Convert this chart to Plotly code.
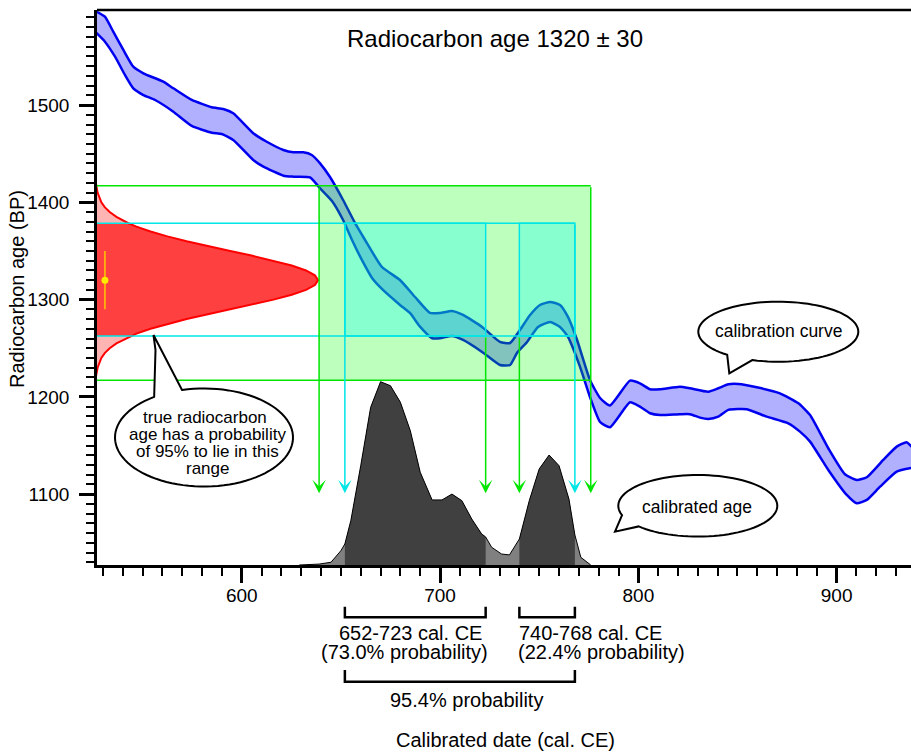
import math
import plotly.graph_objects as go

# ---------------- data ----------------
# calibration curve envelope (cal. CE -> radiocarbon age BP)
cal_upper_year = [526.9, 531.0, 535.2, 540.3, 545.3, 550.4, 560.4, 565.5, 574.8, 584.9, 590.7, 595.7, 605.8, 612.6,
                  621.0, 626.0, 631.0, 635.3, 639.5, 644.5, 651.1, 657.1, 662.2, 670.7, 679.8, 687.4, 694.9, 700.0,
                  706.0, 711.6, 721.2, 730.2, 735.3, 740.3, 745.4, 750.4, 755.5, 760.5, 764.5, 769.1, 775.6, 780.7,
                  785.7, 795.8, 800.8, 805.9, 810.9, 821.0, 826.1, 835.3, 840.3, 845.4, 850.4, 859.7, 871.4, 880.7,
                  886.6, 895.8, 904.2, 910.1, 915.2, 923.5, 930.3, 935.3, 938.0]
cal_upper_bp = [1595.9, 1590.8, 1575.4, 1556.6, 1539.4, 1532.6, 1524.0, 1517.2, 1505.2, 1497.7, 1495.9, 1491.5, 1471.0,
                1462.3, 1453.8, 1451.4, 1451.4, 1448.7, 1440.1, 1426.0, 1402.4, 1378.8, 1361.3, 1333.5, 1320.2, 1302.7,
                1286.3, 1286.3, 1288.3, 1284.2, 1271.9, 1256.5, 1255.4, 1268.8, 1284.2, 1294.5, 1297.6, 1294.5, 1282.2,
                1258.5, 1217.4, 1198.9, 1191.2, 1216.7, 1214.0, 1207.8, 1207.8, 1210.5, 1208.9, 1205.4, 1208.9, 1213.0,
                1213.3, 1209.9, 1203.7, 1193.5, 1181.4, 1147.2, 1120.5, 1114.6, 1117.4, 1135.2, 1148.9, 1153.4, 1148.5]
cal_lower_year = [526.0, 531.0, 536.1, 541.1, 545.3, 550.4, 556.3, 565.5, 574.8, 584.9, 589.9, 595.7, 605.8, 610.9,
                  621.0, 626.0, 634.4, 639.5, 645.5, 651.1, 655.6, 661.1, 665.7, 671.2, 679.8, 684.9, 689.9, 696.0,
                  700.0, 706.0, 711.6, 721.2, 730.2, 735.3, 738.8, 743.9, 749.4, 755.5, 760.5, 764.5, 770.6, 775.6,
                  780.7, 785.7, 795.8, 800.8, 805.9, 810.9, 821.0, 826.1, 831.1, 835.3, 840.3, 845.4, 854.7, 864.7,
                  875.6, 881.5, 886.6, 895.8, 905.1, 910.1, 915.2, 921.9, 930.3, 938.0]
cal_lower_bp = [1575.4, 1565.1, 1549.7, 1530.9, 1517.2, 1510.3, 1505.2, 1493.2, 1478.5, 1471.6, 1470.2, 1464.1, 1443.5,
                1436.6, 1427.4, 1426.4, 1425.7, 1414.4, 1401.4, 1381.8, 1361.3, 1338.7, 1322.2, 1309.9, 1294.5, 1286.0,
                1272.2, 1260.3, 1260.3, 1262.6, 1258.5, 1246.2, 1232.8, 1232.8, 1245.2, 1256.5, 1271.9, 1277.0, 1271.9,
                1261.6, 1230.8, 1199.9, 1174.2, 1168.8, 1194.5, 1190.0, 1183.2, 1181.4, 1182.2, 1182.2, 1178.7, 1177.3,
                1179.7, 1186.6, 1187.3, 1179.7, 1172.9, 1164.3, 1154.0, 1124.9, 1099.2, 1090.7, 1094.1, 1107.7, 1123.2,
                1127.0]

# measured radiocarbon age
measured_age = 1320
measured_err = 30
measured_x = 531

# probability curve of the measured age (drawn sideways from the y axis)
red_bp = [1200, 1210, 1220, 1230, 1240, 1245, 1250, 1255, 1262.5, 1265, 1270, 1275, 1280, 1285, 1290, 1295, 1300,
          1305, 1310, 1315, 1320, 1325, 1330, 1335, 1340, 1345, 1350, 1355, 1360, 1365, 1370, 1375, 1378.5, 1385,
          1390, 1395, 1400, 1410, 1420, 1430, 1440]
red_year = [526.0, 526.1, 526.4, 527.3, 529.2, 530.9, 533.4, 536.8, 543.9, 546.9, 554.0, 562.5, 572.2, 582.9, 594.2,
            605.5, 616.0, 625.2, 632.4, 636.9, 638.5, 636.9, 632.4, 625.2, 616.0, 605.5, 594.2, 582.9, 572.2, 562.5,
            554.0, 546.9, 542.8, 536.8, 533.4, 530.9, 529.2, 527.3, 526.4, 526.1, 526.0]

# ranges
bp95 = [1262.5, 1378.5]          # 95% range of the radiocarbon age
bp_outer = [1217, 1417]          # outer (green) range
cal_outer = [639, 776]           # calibrated outer range
cal_ranges = [[652, 723], [740, 768]]
range_labels = ["652-723 cal. CE", "740-768 cal. CE"]
range_probs = ["(73.0% probability)", "(22.4% probability)"]
total_label = "95.4% probability"

# calibrated probability distribution (relative)
prob_year = [629, 639, 645, 650, 652, 655, 660, 665, 670, 675, 680, 685, 690, 696, 701, 706, 711, 716, 721, 723,
             726, 731, 735, 740, 745, 750, 755, 760, 765, 768, 771, 776]
prob_rel = [0.0, 0.005, 0.015, 0.078, 0.115, 0.242, 0.542, 0.860, 1.0, 0.978, 0.888, 0.733, 0.506, 0.355, 0.355,
            0.387, 0.351, 0.251, 0.169, 0.153, 0.097, 0.060, 0.055, 0.142, 0.351, 0.524, 0.600, 0.542, 0.360,
            0.164, 0.042, 0.0]

x_ticks = [600, 700, 800, 900]
y_ticks = [1100, 1200, 1300, 1400, 1500]

# ---------------- layout geometry ----------------
W, H = 911, 753
L, R, T, B = 97, 0, 10, 188
PW, PH = W - L - R, H - T - B
XR = [527.0, 937.5]
YR = [1027.2, 1597.7]
FONT = "Liberation Sans, Arial, sans-serif"

GREEN = "rgb(0,230,0)"
CYAN = "rgb(0,230,230)"


def px(x):
    return (x - L) / PW


def py(y):
    return (T + PH - y) / PH


fig = go.Figure()

# calibration curve band
fig.add_trace(go.Scatter(x=cal_upper_year + cal_lower_year[::-1], y=cal_upper_bp + cal_lower_bp[::-1],
                         mode="lines", fill="toself", fillcolor="rgb(176,176,255)",
                         line=dict(width=0, shape="spline", smoothing=0.5), hoverinfo="skip", showlegend=False))
for xs, ys in [(cal_upper_year, cal_upper_bp), (cal_lower_year, cal_lower_bp)]:
    fig.add_trace(go.Scatter(x=xs, y=ys, mode="lines", line=dict(color="rgb(0,0,240)", width=2.5, shape="spline",
                                                                  smoothing=0.5),
                             hoverinfo="skip", showlegend=False))

# red measured-age distribution
x0 = 526.0
segments = [
    ([b for b in red_bp if b <= bp95[0]], "rgb(255,180,180)"),
    ([b for b in red_bp if bp95[0] <= b <= bp95[1]], "rgb(255,64,64)"),
    ([b for b in red_bp if b >= bp95[1]], "rgb(255,180,180)"),
]
for sel, col in segments:
    xs = [red_year[red_bp.index(b)] for b in sel]
    fig.add_trace(go.Scatter(x=[x0] + xs + [x0], y=[sel[0]] + sel + [sel[-1]], mode="lines", fill="toself",
                             fillcolor=col, line=dict(width=0), hoverinfo="skip", showlegend=False))
fig.add_trace(go.Scatter(x=red_year, y=red_bp, mode="lines", line=dict(color="rgb(255,0,0)", width=2),
                         hoverinfo="skip", showlegend=False))

# measured age point with error bar
fig.add_trace(go.Scatter(x=[measured_x], y=[measured_age], mode="markers",
                         marker=dict(color="rgb(255,235,0)", size=7),
                         error_y=dict(type="data", array=[measured_err], color="rgb(255,200,0)", thickness=1.5,
                                      width=0),
                         hoverinfo="skip", showlegend=False))

# calibrated probability (secondary y axis)
fig.add_trace(go.Scatter(x=prob_year, y=prob_rel, yaxis="y2", mode="lines", fill="tozeroy",
                         fillcolor="rgb(128,128,128)", line=dict(width=0), hoverinfo="skip", showlegend=False))
for lo, hi in cal_ranges:
    xs = [x for x in prob_year if lo <= x <= hi]
    ys = [prob_rel[prob_year.index(x)] for x in xs]
    fig.add_trace(go.Scatter(x=xs, y=ys, yaxis="y2", mode="lines", fill="tozeroy", fillcolor="rgb(64,64,64)",
                             line=dict(width=0), hoverinfo="skip", showlegend=False))
fig.add_trace(go.Scatter(x=prob_year, y=prob_rel, yaxis="y2", mode="lines", line=dict(color="black", width=1),
                         hoverinfo="skip", showlegend=False))

shapes = []
# green and cyan boxes (semi-transparent, above the curve)
shapes.append(dict(type="rect", xref="x", yref="y", x0=cal_outer[0], x1=cal_outer[1], y0=bp_outer[0],
                   y1=bp_outer[1], fillcolor="rgba(0,255,0,0.26)", line=dict(width=0), layer="above"))
for lo, hi in cal_ranges:
    shapes.append(dict(type="rect", xref="x", yref="y", x0=lo, x1=hi, y0=bp95[0], y1=bp95[1],
                       fillcolor="rgba(0,255,255,0.28)", line=dict(color=CYAN, width=1.5), layer="above"))
for yb in bp_outer:
    shapes.append(dict(type="line", xref="x", yref="y", x0=x0, x1=cal_outer[1], y0=yb, y1=yb,
                       line=dict(color=GREEN, width=1.5), layer="above"))
for yb in bp95:
    shapes.append(dict(type="line", xref="x", yref="y", x0=x0, x1=cal_ranges[1][1], y0=yb, y1=yb,
                       line=dict(color=CYAN, width=1.5), layer="above"))

# top border
shapes.append(dict(type="line", xref="paper", yref="paper", x0=0, x1=1, y0=1, y1=1,
                   line=dict(color="black", width=2.5), layer="above"))

# brackets below the axis
def bracket(xa, xb, ytop, ybot):
    return dict(type="path", xref="x", yref="paper",
                path=f"M{xa},{py(ytop)} L{xa},{py(ybot)} L{xb},{py(ybot)} L{xb},{py(ytop)}",
                line=dict(color="black", width=2.5), layer="above")


for lo, hi in cal_ranges:
    shapes.append(bracket(lo, hi, 606.7, 617.3))
shapes.append(bracket(cal_ranges[0][0], cal_ranges[1][1], 670, 681.7))


# speech bubbles
def bubble(cx, cy, rx, ry, b1, tip_pts, b2):
    a1 = math.atan2((b1[1] - cy) / ry, (b1[0] - cx) / rx)
    a2 = math.atan2((b2[1] - cy) / ry, (b2[0] - cx) / rx)
    d = (a1 - a2) % (2 * math.pi)
    if d > math.pi:
        span = d
    else:
        span = -(2 * math.pi - d)
    n = 90
    pts = []
    for i in range(n + 1):
        t = a2 + span * i / n
        pts.append((cx + rx * math.cos(t), cy + ry * math.sin(t)))
    pts += tip_pts
    path = "M" + " L".join(f"{px(x):.5f},{py(y):.5f}" for x, y in pts) + " Z"
    return dict(type="path", xref="paper", yref="paper", path=path, fillcolor="white",
                line=dict(color="black", width=2), layer="above")


shapes.append(bubble(204, 437.5, 89, 49, (155.5, 398), [(155.5, 350), (153.5, 335)], (182, 390)))
shapes.append(bubble(778.3, 331.7, 80, 30, (726.7, 355), [(729.3, 373.3)], (753.3, 359)))
shapes.append(bubble(697.8, 505.8, 79.5, 30.8, (623.3, 515), [(615, 531.7)], (633.3, 528.3)))

annotations = []
# arrows
arrow_tip = 1101
arrows = [(cal_outer[0], bp_outer[1], GREEN), (cal_ranges[0][0], bp95[1], CYAN),
          (cal_ranges[0][1], bp95[0], GREEN), (cal_ranges[1][0], bp95[0], GREEN),
          (cal_ranges[1][1], bp95[1], CYAN), (cal_outer[1], bp_outer[1], GREEN)]
for xv, ytop, col in arrows:
    annotations.append(dict(x=xv, y=arrow_tip, ax=xv, ay=ytop, xref="x", yref="y", axref="x", ayref="y",
                            text="", showarrow=True, arrowhead=3, arrowsize=1.5, arrowwidth=1.5, arrowcolor=col,
                            standoff=0))


def label(text, x, y, size, angle=0):
    annotations.append(dict(text=text, x=px(x), y=py(y), xref="paper", yref="paper", showarrow=False,
                            xanchor="center", yanchor="middle", textangle=angle,
                            font=dict(family=FONT, size=size, color="black")))


label(f"Radiocarbon age {measured_age} ± {measured_err}", 495, 38, 24)
label("true radiocarbon", 205, 417.5, 17)
label("age has a probability", 207, 434.5, 17)
label("of 95% to lie in this", 207, 451.5, 17)
label("range", 207, 468.5, 17)
label("calibration curve", 778.3, 331, 17.5)
label("calibrated age", 697, 507, 17.5)
label(range_labels[0], 410, 633, 20)
label(range_probs[0], 404.5, 652, 20)
label(range_labels[1], 590, 633, 20)
label(range_probs[1], 601.7, 652, 20)
label(total_label, 466.7, 699.5, 20)
label("Calibrated date (cal. CE)", 505.5, 740, 20)
label("Radiocarbon age (BP)", 17, 289, 20, angle=-90)

axis_common = dict(showline=True, linecolor="black", linewidth=2.5, ticks="outside", ticklen=15, tickwidth=2.5,
                   tickcolor="black", showgrid=False, zeroline=False,
                   tickfont=dict(family=FONT, size=19, color="black"),
                   minor=dict(ticks="outside", ticklen=8, tickwidth=1.5, tickcolor="black", dtick=10,
                              showgrid=False))

fig.update_layout(
    width=W, height=H, margin=dict(l=L, r=R, t=T, b=B, pad=0),
    paper_bgcolor="white", plot_bgcolor="white",
    xaxis=dict(range=XR, tickvals=x_ticks, ticklabelstandoff=-4, **axis_common),
    yaxis=dict(range=YR, tickvals=y_ticks, ticklabelstandoff=6, **axis_common),
    yaxis2=dict(range=[0, 3.028], overlaying="y", visible=False),
    shapes=shapes, annotations=annotations, showlegend=False,
    font=dict(family=FONT),
)

fig.write_html("out.html", config={"displayModeBar": False},
               post_script="document.body.style.margin='0';document.body.style.overflow='hidden';")
